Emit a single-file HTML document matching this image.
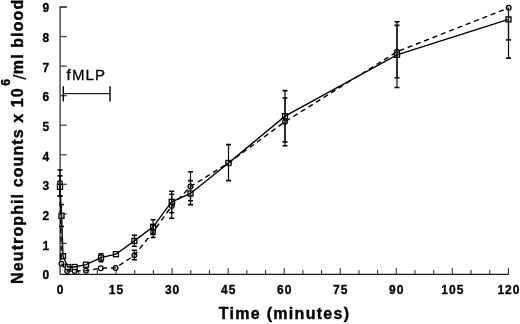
<!DOCTYPE html>
<html><head><meta charset="utf-8"><style>
html,body{margin:0;padding:0;background:#fff;}
svg{display:block;will-change:transform;}
.tl{font-family:"Liberation Sans",sans-serif;font-weight:bold;font-size:12px;fill:#000;stroke:#000;stroke-width:0.3px;}
.ttl{font-family:"Liberation Sans",sans-serif;font-weight:bold;font-size:16px;fill:#000;stroke:#000;stroke-width:0.4px;}
.fm{font-family:"Liberation Sans",sans-serif;font-size:15px;fill:#000;stroke:#000;stroke-width:0.3px;}
</style></head><body>
<svg width="520" height="324" viewBox="0 0 520 324">
<rect width="520" height="324" fill="#fff"/>
<path d="M66.8 7H60.1V274.3" fill="none" stroke="#333" stroke-width="1.3"/><path d="M60.1 274.3H508.6" fill="none" stroke="#1a1a1a" stroke-width="1.3"/>
<path d="M60 243.40H66.8" stroke="#444" stroke-width="1.3"/>
<path d="M60 213.85H66.8" stroke="#444" stroke-width="1.3"/>
<path d="M60 184.30H66.8" stroke="#444" stroke-width="1.3"/>
<path d="M60 154.75H66.8" stroke="#444" stroke-width="1.3"/>
<path d="M60 125.20H66.8" stroke="#444" stroke-width="1.3"/>
<path d="M60 95.65H66.8" stroke="#444" stroke-width="1.3"/>
<path d="M60 66.10H66.8" stroke="#444" stroke-width="1.3"/>
<path d="M60 36.55H66.8" stroke="#444" stroke-width="1.3"/>
<path d="M60 7.00H66.8" stroke="#444" stroke-width="1.3"/>
<path d="M78.68 274.3V269.90" stroke="#333" stroke-width="1.1"/>
<path d="M97.37 274.3V269.90" stroke="#333" stroke-width="1.1"/>
<path d="M116.05 274.3V268.00" stroke="#333" stroke-width="1.1"/>
<path d="M134.73 274.3V269.90" stroke="#333" stroke-width="1.1"/>
<path d="M153.42 274.3V269.90" stroke="#333" stroke-width="1.1"/>
<path d="M172.10 274.3V268.00" stroke="#333" stroke-width="1.1"/>
<path d="M190.78 274.3V269.90" stroke="#333" stroke-width="1.1"/>
<path d="M209.47 274.3V269.90" stroke="#333" stroke-width="1.1"/>
<path d="M228.15 274.3V268.00" stroke="#333" stroke-width="1.1"/>
<path d="M246.83 274.3V269.90" stroke="#333" stroke-width="1.1"/>
<path d="M265.52 274.3V269.90" stroke="#333" stroke-width="1.1"/>
<path d="M284.20 274.3V268.00" stroke="#333" stroke-width="1.1"/>
<path d="M302.88 274.3V269.90" stroke="#333" stroke-width="1.1"/>
<path d="M321.57 274.3V269.90" stroke="#333" stroke-width="1.1"/>
<path d="M340.25 274.3V268.00" stroke="#333" stroke-width="1.1"/>
<path d="M358.93 274.3V269.90" stroke="#333" stroke-width="1.1"/>
<path d="M377.62 274.3V269.90" stroke="#333" stroke-width="1.1"/>
<path d="M396.30 274.3V268.00" stroke="#333" stroke-width="1.1"/>
<path d="M414.98 274.3V269.90" stroke="#333" stroke-width="1.1"/>
<path d="M433.67 274.3V269.90" stroke="#333" stroke-width="1.1"/>
<path d="M452.35 274.3V268.00" stroke="#333" stroke-width="1.1"/>
<path d="M471.03 274.3V269.90" stroke="#333" stroke-width="1.1"/>
<path d="M489.72 274.3V269.90" stroke="#333" stroke-width="1.1"/>
<path d="M508.40 274.3V268.00" stroke="#333" stroke-width="1.1"/>
<text x="50.2" y="279.43" class="tl" text-anchor="end" letter-spacing="1">0</text>
<text x="50.2" y="249.76" class="tl" text-anchor="end" letter-spacing="1">1</text>
<text x="50.2" y="220.09" class="tl" text-anchor="end" letter-spacing="1">2</text>
<text x="50.2" y="190.42" class="tl" text-anchor="end" letter-spacing="1">3</text>
<text x="50.2" y="160.75" class="tl" text-anchor="end" letter-spacing="1">4</text>
<text x="50.2" y="131.08" class="tl" text-anchor="end" letter-spacing="1">5</text>
<text x="50.2" y="101.41" class="tl" text-anchor="end" letter-spacing="1">6</text>
<text x="50.2" y="71.74" class="tl" text-anchor="end" letter-spacing="1">7</text>
<text x="50.2" y="42.07" class="tl" text-anchor="end" letter-spacing="1">8</text>
<text x="50.2" y="12.40" class="tl" text-anchor="end" letter-spacing="1">9</text>
<text x="60.50" y="294.2" class="tl" text-anchor="middle" letter-spacing="1">0</text>
<text x="116.55" y="294.2" class="tl" text-anchor="middle" letter-spacing="1">15</text>
<text x="172.60" y="294.2" class="tl" text-anchor="middle" letter-spacing="1">30</text>
<text x="228.65" y="294.2" class="tl" text-anchor="middle" letter-spacing="1">45</text>
<text x="284.70" y="294.2" class="tl" text-anchor="middle" letter-spacing="1">60</text>
<text x="340.75" y="294.2" class="tl" text-anchor="middle" letter-spacing="1">75</text>
<text x="396.80" y="294.2" class="tl" text-anchor="middle" letter-spacing="1">90</text>
<text x="452.85" y="294.2" class="tl" text-anchor="middle" letter-spacing="1">105</text>
<text x="508.90" y="294.2" class="tl" text-anchor="middle" letter-spacing="1">120</text>
<text x="218.7" y="318.6" class="ttl" letter-spacing="1.3">Time (minutes)</text>
<text transform="translate(23.3 283.9) rotate(-90)" class="ttl" letter-spacing="1.1">Neutrophil counts x 10<tspan dx="1.6" dy="-12.9" font-size="12">6</tspan><tspan dx="-1.8" dy="15.4" style="font-size:19px;font-weight:normal;stroke-width:0.2px">/</tspan><tspan dx="-0.9" dy="-2.5">ml blood</tspan></text>
<text x="66.6" y="79.7" class="fm" letter-spacing="1.15">fMLP</text>
<path d="M63.3 86.3V101.5M110 86.3V101.5" stroke="#000" stroke-width="1.4" fill="none"/><path d="M63.3 93.6H110" stroke="#222" stroke-width="1.2" fill="none"/>
<circle cx="60.00" cy="182.90" r="2.35" fill="#fff" stroke="#000" stroke-width="1.3"/>
<circle cx="61.40" cy="263.80" r="2.35" fill="#fff" stroke="#000" stroke-width="1.3"/>
<circle cx="67.20" cy="271.00" r="2.35" fill="#fff" stroke="#000" stroke-width="1.3"/>
<circle cx="74.60" cy="271.00" r="2.35" fill="#fff" stroke="#000" stroke-width="1.3"/>
<circle cx="86.00" cy="270.80" r="2.35" fill="#fff" stroke="#000" stroke-width="1.3"/>
<circle cx="100.80" cy="268.20" r="2.35" fill="#fff" stroke="#000" stroke-width="1.3"/>
<circle cx="115.60" cy="267.90" r="2.35" fill="#fff" stroke="#000" stroke-width="1.3"/>
<circle cx="134.40" cy="255.30" r="2.35" fill="#fff" stroke="#000" stroke-width="1.3"/>
<circle cx="153.10" cy="232.00" r="2.35" fill="#fff" stroke="#000" stroke-width="1.3"/>
<circle cx="171.70" cy="206.00" r="2.35" fill="#fff" stroke="#000" stroke-width="1.3"/>
<circle cx="190.50" cy="186.50" r="2.35" fill="#fff" stroke="#000" stroke-width="1.3"/>
<circle cx="228.50" cy="163.00" r="2.35" fill="#fff" stroke="#000" stroke-width="1.3"/>
<circle cx="285.00" cy="121.70" r="2.35" fill="#fff" stroke="#000" stroke-width="1.3"/>
<circle cx="397.00" cy="51.70" r="2.35" fill="#fff" stroke="#000" stroke-width="1.3"/>
<circle cx="508.70" cy="7.80" r="2.35" fill="#fff" stroke="#000" stroke-width="1.3"/>
<rect x="57.50" y="184.40" width="5.0" height="5.0" fill="#fff" stroke="#000" stroke-width="1.3"/>
<rect x="59.00" y="213.30" width="5.0" height="5.0" fill="#fff" stroke="#000" stroke-width="1.3"/>
<rect x="60.50" y="253.70" width="5.0" height="5.0" fill="#fff" stroke="#000" stroke-width="1.3"/>
<rect x="65.30" y="264.50" width="5.0" height="5.0" fill="#fff" stroke="#000" stroke-width="1.3"/>
<rect x="72.10" y="264.50" width="5.0" height="5.0" fill="#fff" stroke="#000" stroke-width="1.3"/>
<rect x="83.50" y="262.20" width="5.0" height="5.0" fill="#fff" stroke="#000" stroke-width="1.3"/>
<rect x="98.50" y="255.10" width="5.0" height="5.0" fill="#fff" stroke="#000" stroke-width="1.3"/>
<rect x="113.40" y="251.70" width="5.0" height="5.0" fill="#fff" stroke="#000" stroke-width="1.3"/>
<rect x="131.90" y="238.40" width="5.0" height="5.0" fill="#fff" stroke="#000" stroke-width="1.3"/>
<rect x="150.60" y="224.30" width="5.0" height="5.0" fill="#fff" stroke="#000" stroke-width="1.3"/>
<rect x="169.20" y="199.30" width="5.0" height="5.0" fill="#fff" stroke="#000" stroke-width="1.3"/>
<rect x="188.00" y="191.00" width="5.0" height="5.0" fill="#fff" stroke="#000" stroke-width="1.3"/>
<rect x="226.00" y="160.50" width="5.0" height="5.0" fill="#fff" stroke="#000" stroke-width="1.3"/>
<rect x="282.50" y="113.70" width="5.0" height="5.0" fill="#fff" stroke="#000" stroke-width="1.3"/>
<rect x="394.50" y="52.30" width="5.0" height="5.0" fill="#fff" stroke="#000" stroke-width="1.3"/>
<rect x="506.00" y="16.90" width="5.0" height="5.0" fill="#fff" stroke="#000" stroke-width="1.3"/>
<polyline points="60.00,186.90 61.50,215.80 63.00,256.20 67.80,267.00 74.60,267.00 86.00,264.70 101.00,257.60 115.90,254.20 134.40,240.90 153.10,226.80 171.70,201.80 190.50,193.50 228.50,163.00 285.00,116.20 397.00,54.80 508.50,19.40" fill="none" stroke="#000" stroke-width="1.4"/>
<polyline points="60.00,182.90 61.40,263.80 67.20,271.00 74.60,271.00 86.00,270.80 100.80,268.20 115.60,267.90 134.40,255.30 153.10,232.00 171.70,206.00 190.50,186.50 228.50,163.00 285.00,121.70 397.00,51.70 508.70,7.80" fill="none" stroke="#000" stroke-width="1.4" stroke-dasharray="5.1 3.814" stroke-dashoffset="8.464"/>
<path d="M60.00 170.00V196.00" stroke="#111" stroke-width="1.25" fill="none"/>
<path d="M57.50 170.00h5.0M57.50 196.00h5.0" stroke="#000" stroke-width="1.6" fill="none"/>
<path d="M60.00 175.90V196.00" stroke="#111" stroke-width="1.25" fill="none"/>
<path d="M57.50 175.90h5.0M57.50 196.00h5.0" stroke="#000" stroke-width="1.6" fill="none"/>
<path d="M61.50 204.50V226.50" stroke="#111" stroke-width="1.25" fill="none"/>
<path d="M59.00 204.50h5.0M59.00 226.50h5.0" stroke="#000" stroke-width="1.6" fill="none"/>
<path d="M101.00 253.80V261.60" stroke="#111" stroke-width="1.25" fill="none"/>
<path d="M98.50 253.80h5.0M98.50 261.60h5.0" stroke="#000" stroke-width="1.6" fill="none"/>
<path d="M134.40 235.30V246.30" stroke="#111" stroke-width="1.25" fill="none"/>
<path d="M131.90 235.30h5.0M131.90 246.30h5.0" stroke="#000" stroke-width="1.6" fill="none"/>
<path d="M134.40 250.30V259.80" stroke="#111" stroke-width="1.25" fill="none"/>
<path d="M131.90 250.30h5.0M131.90 259.80h5.0" stroke="#000" stroke-width="1.6" fill="none"/>
<path d="M153.10 219.80V234.50" stroke="#111" stroke-width="1.25" fill="none"/>
<path d="M150.60 219.80h5.0M150.60 234.50h5.0" stroke="#000" stroke-width="1.6" fill="none"/>
<path d="M153.10 225.00V237.50" stroke="#111" stroke-width="1.25" fill="none"/>
<path d="M150.60 225.00h5.0M150.60 237.50h5.0" stroke="#000" stroke-width="1.6" fill="none"/>
<path d="M171.70 191.30V212.70" stroke="#111" stroke-width="1.25" fill="none"/>
<path d="M169.20 191.30h5.0M169.20 212.70h5.0" stroke="#000" stroke-width="1.6" fill="none"/>
<path d="M171.70 194.30V218.20" stroke="#111" stroke-width="1.25" fill="none"/>
<path d="M169.20 194.30h5.0M169.20 218.20h5.0" stroke="#000" stroke-width="1.6" fill="none"/>
<path d="M190.50 171.70V200.80" stroke="#111" stroke-width="1.25" fill="none"/>
<path d="M188.00 171.70h5.0M188.00 200.80h5.0" stroke="#000" stroke-width="1.6" fill="none"/>
<path d="M190.50 180.60V204.60" stroke="#111" stroke-width="1.25" fill="none"/>
<path d="M188.00 180.60h5.0M188.00 204.60h5.0" stroke="#000" stroke-width="1.6" fill="none"/>
<path d="M228.50 144.60V180.60" stroke="#111" stroke-width="1.25" fill="none"/>
<path d="M226.00 144.60h5.0M226.00 180.60h5.0" stroke="#000" stroke-width="1.6" fill="none"/>
<path d="M285.00 90.60V141.90" stroke="#111" stroke-width="1.25" fill="none"/>
<path d="M282.50 90.60h5.0M282.50 141.90h5.0" stroke="#000" stroke-width="1.6" fill="none"/>
<path d="M285.00 98.00V145.80" stroke="#111" stroke-width="1.25" fill="none"/>
<path d="M282.50 98.00h5.0M282.50 145.80h5.0" stroke="#000" stroke-width="1.6" fill="none"/>
<path d="M397.00 21.70V87.50" stroke="#111" stroke-width="1.25" fill="none"/>
<path d="M394.50 21.70h5.0M394.50 87.50h5.0" stroke="#000" stroke-width="1.6" fill="none"/>
<path d="M397.00 25.40V77.70" stroke="#111" stroke-width="1.25" fill="none"/>
<path d="M394.50 25.40h5.0M394.50 77.70h5.0" stroke="#000" stroke-width="1.6" fill="none"/>
<path d="M508.50 7.80V39.90" stroke="#111" stroke-width="1.25" fill="none"/>
<path d="M506.00 39.90h5.0" stroke="#000" stroke-width="1.6" fill="none"/>
<path d="M508.50 19.40V58.10" stroke="#111" stroke-width="1.25" fill="none"/>
<path d="M506.00 58.10h5.0" stroke="#000" stroke-width="1.6" fill="none"/>
</svg>
</body></html>
